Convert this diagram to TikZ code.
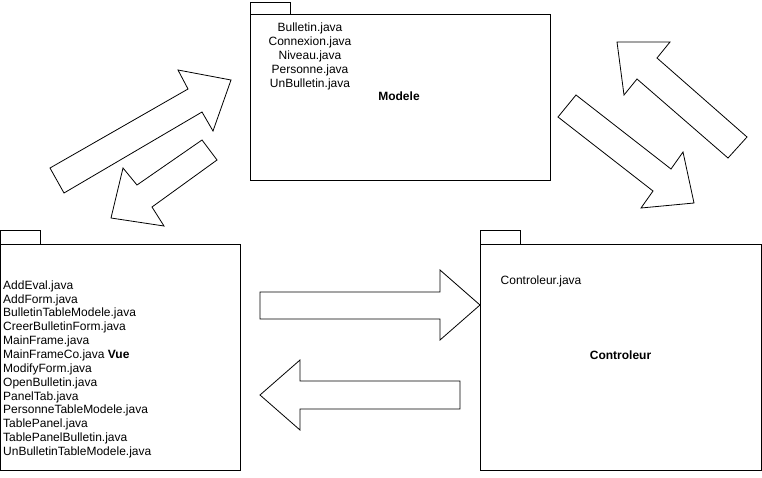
\documentclass[tikz,border=0pt]{standalone}
\usepackage{fontspec}
\setmainfont{Liberation Sans}
\begin{document}
\begin{tikzpicture}[x=1pt,y=-1pt,
  pkg/.style={draw=black,line width=0.9pt,fill=white},
  blockarrow/.style={draw=black,line width=0.8pt,fill=white,line join=miter},
  txt/.style={inner sep=0pt,font=\fontsize{12}{14}\selectfont},
  title/.style={inner sep=0pt,font=\fontsize{12}{14}\selectfont\bfseries}]
\useasboundingbox (0,0) rectangle (762,477);
% packages
\draw[pkg] (250,2) rectangle (290,14);
\draw[pkg] (250,14) rectangle (550,180);
\draw[pkg] (0,230) rectangle (40,244);
\draw[pkg] (0,244) rectangle (240,470);
\draw[pkg] (480,230) rectangle (520,244);
\draw[pkg] (480,244) rectangle (761,470);
% Modele content
\foreach \t [count=\i] in {Bulletin.java,Connexion.java,Niveau.java,Personne.java,UnBulletin.java}
  \node[txt] (m\i) at (310,{14+14*\i}) {\t};
\node[title] (modele) at (399,96) {Modele};
% Vue content
\foreach \t [count=\i] in {AddEval.java,AddForm.java,BulletinTableModele.java,CreerBulletinForm.java,MainFrame.java,{MainFrameCo.java \textbf{Vue}},ModifyForm.java,OpenBulletin.java,PanelTab.java,PersonneTableModele.java,TablePanel.java,TablePanelBulletin.java,UnBulletinTableModele.java}
  \node[txt,anchor=west] (v\i) at (3,{272.3+13.85*\i}) {\t};
% Controleur content
\node[txt,anchor=west] (cj) at (500.5,281) {Controleur.java};
\node[title] (ctrl) at (620.5,355) {Controleur};
% block arrows
\draw[blockarrow] (260,292) -- (440,292) -- (440,270) -- (480,305) -- (440,340) -- (440,319) -- (260,319) -- cycle;
\draw[blockarrow] (460,381) -- (300,381) -- (300,360) -- (260,395) -- (300,430) -- (300,409) -- (460,409) -- cycle;
\draw[blockarrow] (50,168) -- (188,89) -- (178,70) -- (231,80) -- (213,131) -- (202,112) -- (64,193) -- cycle;
\draw[blockarrow] (202,140) -- (217,160) -- (152,207) -- (164,226) -- (111,218) -- (123,168) -- (137,185) -- cycle;
\draw[blockarrow] (617,42) -- (670,42) -- (657,58) -- (747,137) -- (728,158) -- (637,79) -- (624,95) -- cycle;
\draw[blockarrow] (558,117) -- (576,95) -- (671,169) -- (683,152) -- (694,203) -- (641,208) -- (653,191) -- cycle;
\end{tikzpicture}
\end{document}
